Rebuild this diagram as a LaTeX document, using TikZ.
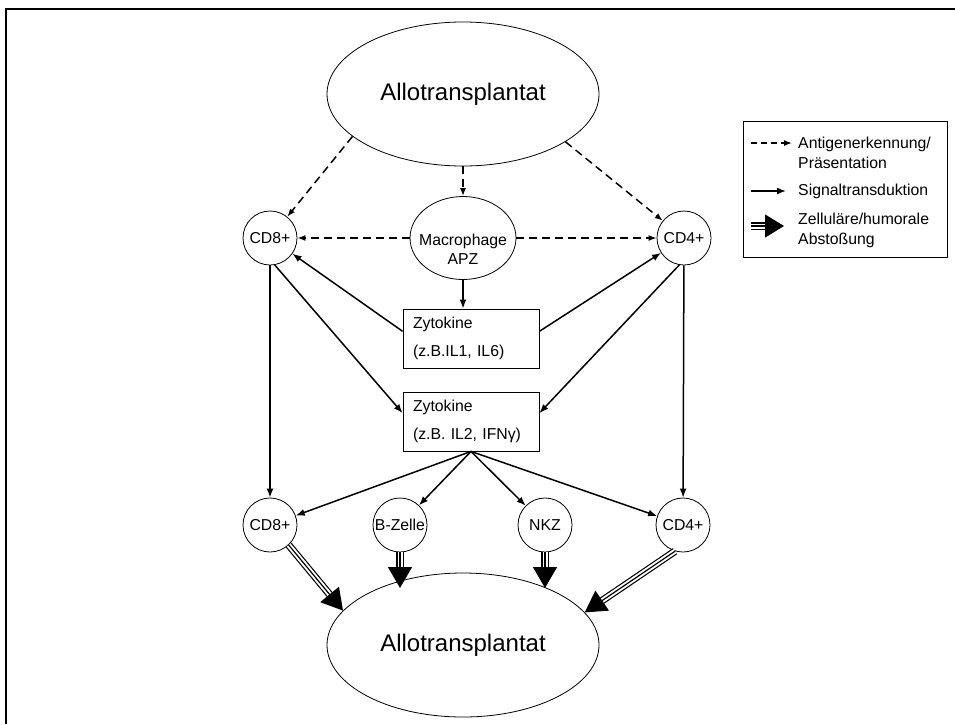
\documentclass[tikz,border=0pt]{standalone}
\usepackage{fontspec}
\setmainfont{Liberation Sans}
\usetikzlibrary{shapes.geometric,arrows.meta}

\begin{document}
\begin{tikzpicture}[x=1pt,y=-1pt,
    font=\fontsize{15.8}{19}\selectfont,
    cell/.style={circle,draw,line width=0.8pt,minimum size=54pt,inner sep=0pt},
    graft/.style={ellipse,draw,line width=0.8pt,minimum width=272pt,minimum height=144pt,
        inner sep=0pt,font=\fontsize{24}{28}\selectfont},
    zbox/.style={rectangle,draw,line width=0.8pt,minimum width=136pt,minimum height=59pt,
        text width=116pt,inner xsep=10pt,align=left},
    present/.style={dash pattern=on 8pt off 5pt,line width=1.5pt,-{Latex[length=8pt,width=6pt]}},
    signal/.style={line width=1.5pt,-{Latex[length=9pt,width=7pt]}},
    reject/.style={line width=1.2pt,-{Triangle[length=21pt,width=24pt]},
        preaction={draw,-,double,double distance=5pt,line width=1.2pt,shorten >=15pt}},
]
    \useasboundingbox (0,0) rectangle (955,724);

    % Draw the frame
    \draw[line width=2.2pt] (6,724) -- (6,9) -- (955,9);

    % Draw the grafts
    \node[graft] (top) at (463,94) {Allotransplantat};
    \node[graft] (bot) at (463,645) {Allotransplantat};

    % Draw the macrophage
    \node[ellipse,draw,line width=0.8pt,minimum width=106pt,minimum height=83pt] (apz) at (463,238) {};
    \node[align=center,inner sep=0pt] (apztext) at (463,249) {Macrophage\\APZ};

    % Draw the cells
    \node[cell] (cd8a) at (270,238) {CD8+};
    \node[cell] (cd4a) at (684,238) {CD4+};
    \node[cell] (cd8b) at (270,525) {CD8+};
    \node[cell] (bz)   at (400,525) {B-Zelle};
    \node[cell] (nkz)  at (545,525) {NKZ};
    \node[cell] (cd4b) at (683,525) {CD4+};

    % Draw the cytokine boxes
    \node[zbox] (z1) at (471,338.5) {Zytokine\\[9pt](z.B.IL1, IL6)};
    \node[zbox] (z2) at (471,421.5) {Zytokine\\[9pt](z.B. IL2, IFNγ)};

    % Antigen presentation
    \draw[present] (top.201) -- (cd8a);
    \draw[present] (top.-25) -- (cd4a);
    \draw[present] (top.south) -- (apz.north);
    \draw[present] (apz) -- (cd8a);
    \draw[present] (apz) -- (cd4a);

    % Signal transduction
    \draw[signal] (apz.south) -- (apz.south |- z1.north);
    \draw[signal] (z1.174) -- (cd8a);
    \draw[signal] (z1.6) -- (cd4a);
    \draw[signal] (cd8a.-80) -- (z2.173);
    \draw[signal] (cd4a.-100) -- (z2.7);
    \draw[signal] (cd8a) -- (cd8b);
    \draw[signal] (cd4a) -- (cd4b);
    \draw[signal] (z2.south) -- (cd8b);
    \draw[signal] (z2.south) -- (bz);
    \draw[signal] (z2.south) -- (nkz);
    \draw[signal] (z2.south) -- (cd4b);

    % Rejection
    \coordinate (bztip) at (400,588);
    \coordinate (nkztip) at (545,588);
    \draw[reject] (cd8b.-47) -- (bot.164);
    \draw[reject] (bz) -- (bztip);
    \draw[reject] (nkz) -- (nkztip);
    \draw[reject] (cd4b.-107) -- (bot.15);

    % Legend
    \draw[line width=0.8pt] (743,121) rectangle (947,257);
    \coordinate (lp0) at (751,143);
    \coordinate (lp1) at (792,143);
    \coordinate (ls0) at (751,191);
    \coordinate (ls1) at (786,191);
    \coordinate (lr0) at (751,226);
    \coordinate (lr1) at (784,226);
    \draw[present,dash pattern=on 6pt off 4pt] (lp0) -- (lp1);
    \draw[signal] (ls0) -- (ls1);
    \draw[reject,-{Triangle[length=19pt,width=23pt]},preaction={shorten >=13pt}] (lr0) -- (lr1);
    \node[anchor=west,align=left,inner sep=0pt] (lgpres) at (798,153) {Antigenerkennung/\\[1pt]Präsentation};
    \node[anchor=west,inner sep=0pt] (lgsig) at (798,191) {Signaltransduktion};
    \node[anchor=west,align=left,inner sep=0pt] (lgrej) at (798,230) {Zelluläre/humorale\\[1pt]Abstoßung};
\end{tikzpicture}
\end{document}
